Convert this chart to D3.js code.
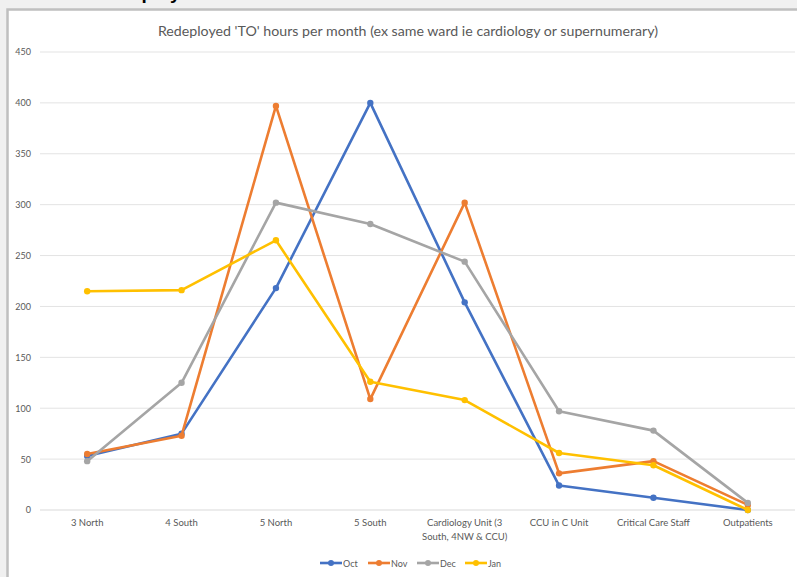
<!DOCTYPE html>
<html>
<head>
<meta charset="utf-8">
<script src="https://cdn.jsdelivr.net/npm/d3@7/dist/d3.min.js"></script>
<style>
  html, body { margin: 0; padding: 0; background: #f0f0f0; }
  svg { display: block; }
</style>
</head>
<body>
<svg id="chart" width="797" height="577"></svg>
<script>
// Wards / units receiving redeployed hours
const categories = [
  ["3 North"],
  ["4 South"],
  ["5 North"],
  ["5 South"],
  ["Cardiology Unit (3", "South, 4NW & CCU)"],
  ["CCU in C Unit"],
  ["Critical Care Staff"],
  ["Outpatients"]
];
const months = ["Oct", "Nov", "Dec", "Jan"];
const colors = ["#4472C4", "#ED7D31", "#A5A5A5", "#FFC000"];

// Hours per month for each ward
const octValues = [53, 75, 218, 400, 204, 24, 12, 0];
const novValues = [55, 73, 397, 109, 302, 36, 48, 5];
const decValues = [48, 125, 302, 281, 244, 97, 78, 7];
const janValues = [215, 216, 265, 126, 108, 56, 44, 0];

const yTicks = [0, 50, 100, 150, 200, 250, 300, 350, 400, 450];

const seriesData = [octValues, novValues, decValues, janValues].map((vals, i) => ({
  name: months[i], color: colors[i], values: vals
}));

const svg = d3.select("#chart");
const font = "Lato, 'Open Sans', sans-serif";
const textColor = "#595959";

// Heading above the frame (runs off the top of the page)
svg.append("text").attr("x", 95).attr("y", -1).attr("font-family", "'Liberation Sans', sans-serif")
  .attr("font-weight", "bold").attr("font-size", 19).attr("fill", "#000")
  .text("Redeployed");

// Chart frame
svg.append("rect").attr("x", 7.5).attr("y", 9.5).attr("width", 800).attr("height", 580)
  .attr("fill", "#ffffff").attr("stroke", "#bfbfbf").attr("stroke-width", 2.5);

const plot = { left: 40, right: 795, top: 52, bottom: 510 };

const x = d3.scaleBand().domain(d3.range(categories.length))
  .range([plot.left, plot.right]).padding(0);
const y = d3.scaleLinear().domain([0, 450]).range([plot.bottom, plot.top]);

// Gridlines
svg.append("g").selectAll("line").data(yTicks).join("line")
  .attr("x1", plot.left).attr("x2", plot.right)
  .attr("y1", d => y(d)).attr("y2", d => y(d))
  .attr("stroke", d => d === 0 ? "#d9d9d9" : "#e3e3e3").attr("stroke-width", 1);

// Y axis labels
const yAxis = d3.axisLeft(y).tickValues(yTicks).tickSize(0).tickPadding(0);
const yg = svg.append("g").attr("transform", `translate(${plot.left - 9},0)`).call(yAxis);
yg.select(".domain").remove();
yg.selectAll("text").attr("font-family", font).attr("font-size", 9).attr("fill", textColor);

// X axis labels (wrapped)
const xg = svg.append("g");
categories.forEach((lines, i) => {
  const t = xg.append("text").attr("x", x(i) + x.bandwidth() / 2).attr("y", 526)
    .attr("text-anchor", "middle").attr("font-family", font).attr("font-size", 9.5)
    .attr("fill", textColor);
  lines.forEach((ln, j) => t.append("tspan").attr("x", x(i) + x.bandwidth() / 2)
    .attr("dy", j === 0 ? 0 : 14).text(ln));
});

// Title
svg.append("text").attr("x", 408).attr("y", 36).attr("text-anchor", "middle")
  .attr("font-family", font).attr("font-size", 14.2).attr("fill", textColor)
  .text("Redeployed 'TO' hours per month (ex same ward ie cardiology or supernumerary)");

// Lines and markers
const line = d3.line().x((d, i) => x(i) + x.bandwidth() / 2).y(d => y(d));
seriesData.forEach(s => {
  const g = svg.append("g");
  g.append("path").datum(s.values).attr("d", line).attr("fill", "none")
    .attr("stroke", s.color).attr("stroke-width", 2.6).attr("stroke-linejoin", "round");
  g.selectAll("circle").data(s.values).join("circle")
    .attr("cx", (d, i) => x(i) + x.bandwidth() / 2).attr("cy", d => y(d))
    .attr("r", 3.2).attr("fill", s.color);
});

// Legend
const legendX = [320, 368, 417, 465];
const lg = svg.append("g");
seriesData.forEach((s, i) => {
  const gx = legendX[i];
  lg.append("line").attr("x1", gx).attr("x2", gx + 22).attr("y1", 563).attr("y2", 563)
    .attr("stroke", s.color).attr("stroke-width", 2.6);
  lg.append("circle").attr("cx", gx + 11).attr("cy", 563).attr("r", 3).attr("fill", s.color);
  lg.append("text").attr("x", gx + 23).attr("y", 566.5).attr("font-family", font)
    .attr("font-size", 9).attr("fill", textColor).text(s.name);
});
</script>
</body>
</html>
